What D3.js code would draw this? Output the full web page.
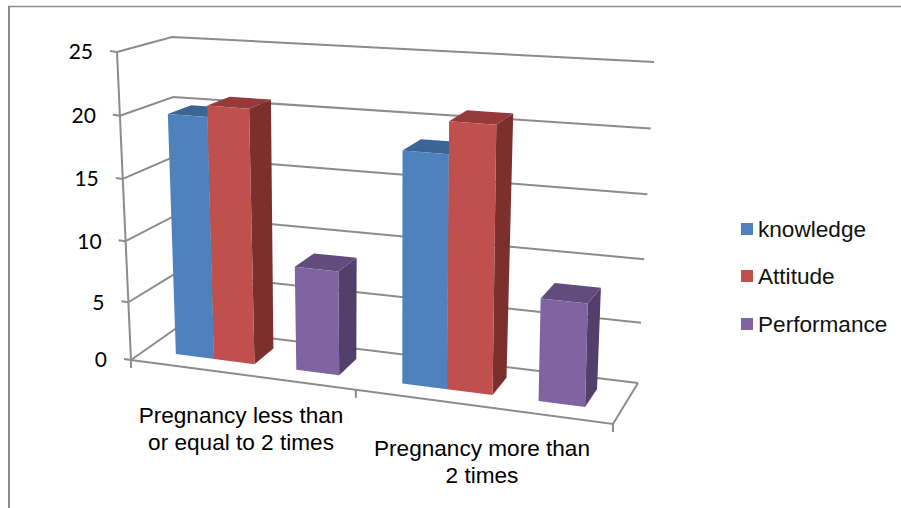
<!DOCTYPE html>
<html>
<head>
<meta charset="utf-8">
<script src="https://cdn.jsdelivr.net/npm/d3@7"></script>
<style>
  html, body { margin: 0; padding: 0; background: #fff; }
</style>
</head>
<body>
<div id="chart"></div>
<script>
// Data
const categories = ['Pregnancy less than or equal to 2 times', 'Pregnancy more than 2 times']
const categoryLines = [['Pregnancy less than', 'or equal to 2 times'], ['Pregnancy more than', '2 times']]
const seriesNames = ['knowledge', 'Attitude', 'Performance']
const knowledge = [19.9, 18.5]
const attitude = [20.8, 21]
const performance = [8.6, 8.2]
const yTicks = [0, 5, 10, 15, 20, 25]

const seriesValues = [knowledge, attitude, performance]
const colors = ['#4f81bd', '#c0504d', '#8064a2']
const topColors = ['#3c6494', '#953a38', '#624c7e']
const sideColors = ['#2f4f76', '#7b302e', '#533f6c']

const dim = { width: 901, height: 508 }

const svg = d3.select('#chart')
    .append('svg')
    .attr('width', dim.width)
    .attr('height', dim.height)
    .style('display', 'block')

// corners of the 3d box as they land on the page
const box = {
    fl0: [131, 360], fr0: [613, 424], bl0: [178, 327], br0: [638, 383],
    fl1: [117, 52], fr1: [621, 87], bl1: [172, 37], br1: [654, 62]
}
const mix = (a, b, t) => [a[0] + (b[0] - a[0])*t, a[1] + (b[1] - a[1])*t]

// scales: across the floor, up the wall, into the depth
const uScale = d3.scalePow().exponent(1.1).domain([0, 1]).range([0, 1])
const vScale = d3.scalePow().exponent(1.04).domain([0, 25]).range([0, 1])
const xScale = d3.scaleBand().domain(categories).range([0.0165, 0.9985]).paddingInner(0.264).paddingOuter(0.136)
// slot between Attitude and Performance stays empty
const slotScale = d3.scaleBand().domain(['knowledge', 'Attitude', '', 'Performance']).range([0, xScale.bandwidth()])
const barDepth = [0.3, 0.75]

function project(t, value, z){
    const u = uScale(t), v = vScale(value)
    const f = mix(mix(box.fl0, box.fr0, u), mix(box.fl1, box.fr1, u), v)
    const b = mix(mix(box.bl0, box.br0, u), mix(box.bl1, box.br1, u), v)
    return mix(f, b, z)
}

const line = d3.line()
const poly = pts => line(pts) + 'Z'
const gray = '#8c8c8c'

// walls
const grid = svg.append('g').attr('fill', 'none').attr('stroke', gray).attr('stroke-width', 2)
grid.selectAll('path')
    .data(yTicks)
    .join('path')
    .attr('d', d => line([project(0, d, 0), project(0, d, 1), project(1, d, 1)]))

// floor edges and axis lines
grid.append('path').attr('d', line([project(0, 0, 0), project(1, 0, 0), project(1, 0, 1)]))
grid.append('path').attr('d', line([project(0, 0, 0), project(0, 25, 0)]))

grid.selectAll('.ytick')
    .data(yTicks)
    .join('path')
    .attr('class', 'ytick')
    .attr('d', d => {
        const p = project(0, d, 0)
        return line([p, [p[0] - 7, p[1] - 1]])
    })

grid.selectAll('.xtick')
    .data([0, 0.5, 1])
    .join('path')
    .attr('class', 'xtick')
    .attr('d', d => {
        const p = project(d, 0, 0)
        return line([p, [p[0], p[1] + 8]])
    })

// bars
const bars = []
categories.forEach((c, i) => {
    seriesNames.forEach((s, j) => {
        bars.push({ c, s, j, value: seriesValues[j][i] })
    })
})

const bar = svg.append('g').selectAll('g')
    .data(bars)
    .join('g')

bar.each(function(d){
    const g = d3.select(this)
    const t0 = xScale(d.c) + slotScale(d.s)
    const t1 = t0 + slotScale.bandwidth()
    const [z0, z1] = barDepth
    g.append('path')
        .attr('fill', sideColors[d.j])
        .attr('d', poly([project(t1, 0, z0), project(t1, 0, z1), project(t1, d.value, z1), project(t1, d.value, z0)]))
    g.append('path')
        .attr('fill', topColors[d.j])
        .attr('d', poly([project(t0, d.value, z0), project(t1, d.value, z0), project(t1, d.value, z1), project(t0, d.value, z1)]))
    g.append('path')
        .attr('fill', colors[d.j])
        .attr('d', poly([project(t0, 0, z0), project(t1, 0, z0), project(t1, d.value, z0), project(t0, d.value, z0)]))
})

// value labels
svg.append('g').selectAll('text')
    .data(yTicks)
    .join('text')
    .attr('x', d => project(0, d, 0)[0] - 24)
    .attr('y', d => project(0, d, 0)[1] + 2)
    .attr('text-anchor', 'end')
    .attr('dominant-baseline', 'middle')
    .attr('font-family', 'Lato')
    .attr('font-size', 21)
    .attr('fill', '#000')
    .text(d => d)

// category labels
const labelPos = [[241, 423], [482, 456]]
svg.append('g').selectAll('text')
    .data(categories)
    .join('text')
    .attr('font-family', 'Liberation Sans')
    .attr('font-size', 22.6)
    .attr('fill', '#000')
    .attr('text-anchor', 'middle')
    .attr('transform', (d, i) => `translate(${labelPos[i][0]}, ${labelPos[i][1]})`)
    .selectAll('tspan')
    .data((d, i) => categoryLines[i])
    .join('tspan')
    .attr('x', 0)
    .attr('dy', (d, i) => i ? 27 : 0)
    .text(d => d)

// legend
const legend = svg.append('g').selectAll('g')
    .data(seriesNames)
    .join('g')
    .attr('transform', (d, i) => `translate(741, ${[223, 270, 318][i]})`)
legend.append('rect')
    .attr('width', 12)
    .attr('height', 12)
    .attr('fill', (d, i) => colors[i])
legend.append('text')
    .attr('x', 17)
    .attr('y', 14)
    .attr('font-family', 'Liberation Sans')
    .attr('font-size', 22.6)
    .attr('fill', '#111')
    .text(d => d)

// chart frame
svg.append('path')
    .attr('fill', 'none')
    .attr('stroke', gray)
    .attr('stroke-width', 2)
    .attr('d', line([[9, dim.height], [9, 6]]))
svg.append('path')
    .attr('fill', 'none')
    .attr('stroke', gray)
    .attr('stroke-width', 1.5)
    .attr('d', line([[8, 6.5], [dim.width, 6.5]]))
</script>
</body>
</html>
